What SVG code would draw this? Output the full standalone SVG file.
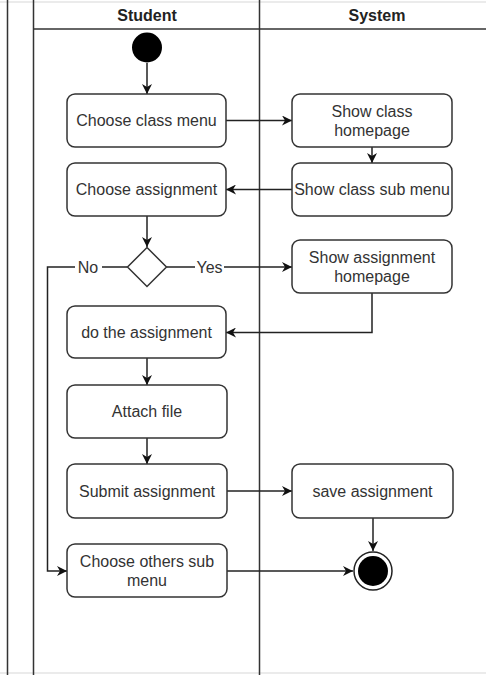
<svg xmlns="http://www.w3.org/2000/svg" width="486" height="675" viewBox="0 0 486 675">
<defs>
<style>
.lane{fill:none;stroke:#333;stroke-width:1.5}
.faint{fill:none;stroke:#e4e4e4;stroke-width:1.5}
.box{fill:#fff;stroke:#333;stroke-width:1.5}
.t{font-family:"Liberation Sans",Arial,sans-serif;font-size:16px;fill:#333;text-anchor:middle}
.h{font-family:"Liberation Sans",Arial,sans-serif;font-size:16px;font-weight:bold;fill:#222;text-anchor:middle}
.c{fill:none;stroke:#222;stroke-width:1.5}
</style>
<marker id="arr" viewBox="0 0 10 10" refX="10" refY="5" markerWidth="10" markerHeight="10" markerUnits="userSpaceOnUse" orient="auto">
<path d="M0,0 L10,5 L0,10 L3,5 Z" fill="#111"/>
</marker>
</defs>
<rect x="0" y="0" width="486" height="675" fill="#fff"/>
<g id="swimlanes">
<line class="faint" x1="0" y1="2" x2="486" y2="2"/>
<line class="faint" x1="0" y1="673" x2="486" y2="673"/>
<line class="lane" x1="7.5" y1="0" x2="7.5" y2="675"/>
<line class="lane" x1="33.5" y1="0" x2="33.5" y2="675"/>
<line class="lane" x1="259.5" y1="0" x2="259.5" y2="675"/>
<line class="lane" x1="33.5" y1="29" x2="486" y2="29"/>
<text class="h" x="147" y="21">Student</text>
<text class="h" x="377" y="21">System</text>
</g>
<g id="connectors">
<line class="c" x1="147" y1="63" x2="147" y2="94" marker-end="url(#arr)"/>
<line class="c" x1="226" y1="120.5" x2="292" y2="120.5" marker-end="url(#arr)"/>
<line class="c" x1="372" y1="147" x2="372" y2="163" marker-end="url(#arr)"/>
<line class="c" x1="292" y1="189.5" x2="226" y2="189.5" marker-end="url(#arr)"/>
<line class="c" x1="147" y1="216" x2="147" y2="247" marker-end="url(#arr)"/>
<line class="c" x1="166.5" y1="267" x2="292" y2="267" marker-end="url(#arr)"/>
<polyline class="c" points="127.5,267 47.5,267 47.5,571 67,571" marker-end="url(#arr)"/>
<polyline class="c" points="372,293 372,332.5 226,332.5" marker-end="url(#arr)"/>
<line class="c" x1="147" y1="358" x2="147" y2="385" marker-end="url(#arr)"/>
<line class="c" x1="147" y1="438" x2="147" y2="464" marker-end="url(#arr)"/>
<line class="c" x1="227" y1="491" x2="292" y2="491" marker-end="url(#arr)"/>
<line class="c" x1="373" y1="518" x2="373" y2="551" marker-end="url(#arr)"/>
<line class="c" x1="227" y1="571" x2="353" y2="571" marker-end="url(#arr)"/>
<rect x="75" y="258" width="27" height="18" fill="#fff"/>
<text class="t" x="88" y="273">No</text>
<rect x="195" y="258" width="29" height="18" fill="#fff"/>
<text class="t" x="209.5" y="273">Yes</text>
</g>
<g id="start"><circle cx="147" cy="47.5" r="15" fill="#000"/></g>
<g id="choose-class-menu"><rect class="box" x="67" y="94" width="159" height="53" rx="8"/><text class="t" x="146.5" y="126">Choose class menu</text></g>
<g id="show-class-homepage"><rect class="box" x="292" y="94" width="160" height="53" rx="8"/><text class="t" x="372" y="117">Show class</text><text class="t" x="372" y="136">homepage</text></g>
<g id="show-class-sub-menu"><rect class="box" x="292" y="163" width="160" height="53" rx="8"/><text class="t" x="372" y="195">Show class sub menu</text></g>
<g id="choose-assignment"><rect class="box" x="67" y="163" width="159" height="53" rx="8"/><text class="t" x="146.5" y="195">Choose assignment</text></g>
<g id="decision"><polygon class="box" points="147,247.5 166.5,267 147,286.5 127.5,267"/></g>
<g id="show-assignment-homepage"><rect class="box" x="292" y="240" width="160" height="53" rx="8"/><text class="t" x="372" y="263">Show assignment</text><text class="t" x="372" y="282">homepage</text></g>
<g id="do-the-assignment"><rect class="box" x="67" y="306" width="159" height="52" rx="8"/><text class="t" x="146.5" y="338">do the assignment</text></g>
<g id="attach-file"><rect class="box" x="67" y="385" width="160" height="53" rx="8"/><text class="t" x="147" y="417">Attach file</text></g>
<g id="submit-assignment"><rect class="box" x="67" y="464" width="160" height="54" rx="8"/><text class="t" x="147" y="497">Submit assignment</text></g>
<g id="save-assignment"><rect class="box" x="292" y="464" width="161" height="54" rx="8"/><text class="t" x="372.5" y="497">save assignment</text></g>
<g id="choose-others-sub-menu"><rect class="box" x="67" y="544" width="160" height="53" rx="8"/><text class="t" x="147" y="567">Choose others sub</text><text class="t" x="147" y="586">menu</text></g>
<g id="end"><circle cx="373" cy="571" r="19" fill="#fff" stroke="#222" stroke-width="1.5"/><circle cx="373" cy="571" r="15" fill="#000"/></g>
</svg>
